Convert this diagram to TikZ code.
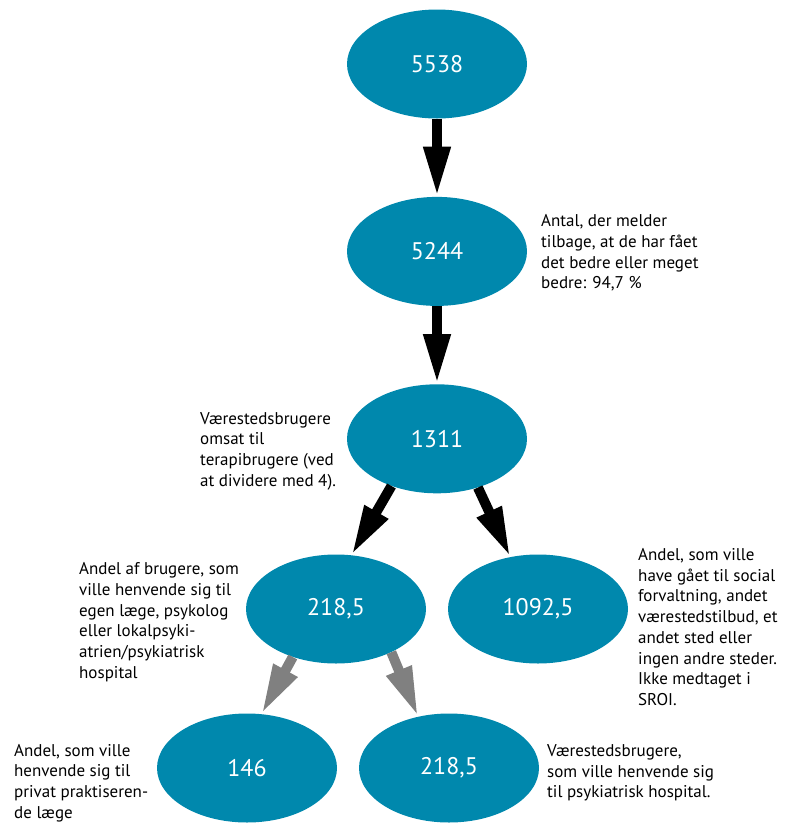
\documentclass[tikz,border=0pt]{standalone}
\usepackage{fontspec}
\setmainfont{PT Sans}
\usepackage{tikz}
\usetikzlibrary{positioning, shapes.geometric, arrows.meta}
\definecolor{sroiblue}{RGB}{0,136,173}
\begin{document}
\begin{tikzpicture}[
        x=1pt, y=-1pt,
        node distance=78pt,
        every node/.style={font=\fontsize{17}{20.7}\selectfont},
        count/.style={ellipse, minimum width=180pt, minimum height=109pt, fill=sroiblue, text=white, inner sep=0pt, font=\fontsize{24}{28}\selectfont},
        note/.style={align=left, inner sep=0pt, anchor=west},
        bigarrow/.style={line width=10pt, -{Triangle[width=25pt,length=50pt]}},
        greyarrow/.style={bigarrow, draw=gray}
    ]
    \useasboundingbox (0,0) rectangle (797,823);

    % Nodes
    \node (n1) [count] at (437,64) {5538};
    \node (n2) [count, below=of n1] {5244};
    \node (n3) [count, below=of n2] {1311};
    \node (n4) [count] at (336,609) {218,5};
    \node (n5) [count] at (538,609) {1092,5};
    \node (n6) [count] at (247,768) {146};
    \node (n7) [count] at (449,768) {218,5};

    % Notes
    \node (t2) [note] at (541,253) {Antal, der melder\\tilbage, at de har fået\\det bedre eller meget\\bedre: 94,7 \%};
    \node (t3) [note] at (200,451) {Værestedsbrugere\\omsat til\\terapibrugere (ved\\at dividere med 4).};
    \node (t4) [note] at (79,622) {Andel af brugere, som\\ville henvende sig til\\egen læge, psykolog\\eller lokalpsyki-\\atrien/psykiatrisk\\hospital};
    \node (t5) [note] at (638,627) {Andel, som ville\\have gået til social\\forvaltning, andet\\værestedstilbud, et\\andet sted eller\\ingen andre steder.\\Ikke medtaget i\\SROI.};
    \node (t6) [note] at (14,783) {Andel, som ville\\henvende sig til\\privat praktiseren-\\de læge};
    \node (t7) [note] at (547,773) {Værestedsbrugere,\\som ville henvende sig\\til psykiatrisk hospital.};

    % Arrows
    \draw [bigarrow] (n1.south) -- (n2.north);
    \draw [bigarrow] (n2.south) -- (n3.north);
    \draw [bigarrow] (n3.226) -- (n4.74);
    \draw [bigarrow] (n3.310) -- (n5.118);
    \draw [greyarrow] (n4.228) -- (n6.75);
    \draw [greyarrow] (n4.322) -- (n7.121);

\end{tikzpicture}
\end{document}
